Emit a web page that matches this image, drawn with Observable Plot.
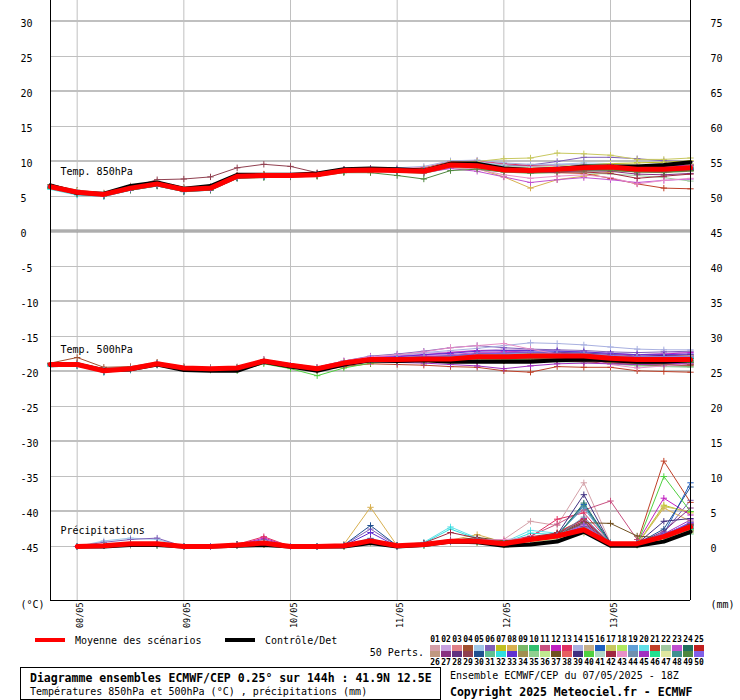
<!DOCTYPE html>
<html><head><meta charset="utf-8">
<script src="https://cdn.jsdelivr.net/npm/d3@7"></script>
<script src="https://cdn.jsdelivr.net/npm/@observablehq/plot@0.6"></script>
<style>body{margin:0;background:#fff;} #chart svg{display:block}</style>
</head><body><div id="chart"></div>
<script>
// ---------------- data ----------------
const leadHours = [0,6,12,18,24,30,36,42,48,54,60,66,72,78,84,90,96,102,108,114,120,126,132,138,144];
const precipHours = [6,12,18,24,30,36,42,48,54,60,66,72,78,84,90,96,102,108,114,120,126,132,138,144];
const dayTicks = ["2025-05-08","2025-05-09","2025-05-10","2025-05-11","2025-05-12","2025-05-13"];
const dayLabels = ["08/05","09/05","10/05","11/05","12/05","13/05"];
const leftTicks = [30,25,20,15,10,5,0,-5,-10,-15,-20,-25,-30,-35,-40,-45];
const rightTicks = [75,70,65,60,55,50,45,40,35,30,25,20,15,10,5,0];
const thinGrid = [25,15,5,-5,-15,-25,-35,-45];
const thickGrid = [30,20,10,-10,-20,-30,-40];
const panelLabels = [{label:"Temp. 850hPa", y:8.6},{label:"Temp. 500hPa", y:-16.9},{label:"Précipitations", y:-42.7}];
const precipOffset = -45; // 0 mm on the right axis sits on -45 °C of the left axis

const pertIds = ["01","02","03","04","05","06","07","08","09","10","11","12","13","14","15","16","17","18","19","20","21","22","23","24","25",
"26","27","28","29","30","31","32","33","34","35","36","37","38","39","40","41","42","43","44","45","46","47","48","49","50"];
const pertColors = ["#d4a0a8","#c8a0e0","#e08088","#a05030","#a0c8e8","#8060b8","#c0c020","#d8b050","#78b868","#30c070",
"#c85080","#c020c0","#e03060","#a8b0e0","#c8b088","#2060c0","#c8c860","#b0e860","#60a0d8","#60e0e8",
"#c04028","#a0c8a0","#c050d0","#207060","#c02020","#c09880","#883080","#603080","#904050","#205090",
"#60c090","#30e0e0","#6030d0","#a09050","#90d090","#c0e890","#705020","#e86060","#403080","#50d040",
"#b0d8c8","#a02840","#e890c8","#7090b0","#a030c0","#20e090","#e0e8a0","#409090","#508840","#8060e8"];

const t850Mean = [6.4,5.6,5.3,6.2,6.8,6.0,6.2,7.9,8.0,8.0,8.1,8.7,8.8,8.7,8.6,9.5,9.4,8.8,8.7,8.9,9.1,9.2,8.9,8.9,9.1];
const t850Ctrl = [6.6,5.5,5.4,6.5,7.0,6.1,6.5,8.1,8.1,8.1,8.3,8.9,9.0,8.9,8.7,9.7,9.7,9.0,8.8,8.9,9.3,9.3,9.3,9.5,9.9];
const t850Perts = [
[6.6,5.8,5.4,6.4,7.0,6.1,6.3,8.1,8.2,8.1,8.3,8.9,9.0,9.0,8.8,9.7,9.8,9.4,9.2,9.5,9.6,9.4,9.2,9.3,9.4],
[6.2,5.5,5.4,6.3,6.9,6.2,6.4,7.8,7.9,8.0,8.0,8.6,8.8,8.9,8.9,9.8,10.0,9.6,9.3,9.4,9.5,9.6,9.4,9.2,9.3],
[6.5,5.7,5.2,6.1,6.7,5.9,6.1,7.7,7.9,7.9,8.1,8.8,8.9,8.6,8.4,9.3,9.1,8.5,8.6,8.7,8.8,8.8,8.6,8.7,8.9],
[6.7,5.9,5.5,6.5,7.1,6.3,6.4,8.0,8.2,8.2,8.3,8.8,8.9,8.8,8.7,9.6,9.5,9.0,8.9,9.1,9.4,9.5,9.3,9.4,9.6],
[6.3,5.4,5.1,6.0,6.6,5.8,6.0,7.8,8.0,8.1,8.2,8.8,9.0,8.9,8.8,9.7,9.9,9.5,9.4,9.6,9.8,9.7,9.5,9.4,9.5],
[6.4,5.6,5.3,6.2,6.7,5.9,6.1,7.8,7.9,8.0,8.2,8.8,8.9,8.8,8.8,9.6,9.7,9.4,9.5,10.0,10.6,10.6,10.4,10.1,10.0],
[6.5,5.7,5.3,6.3,6.9,6.0,6.2,7.9,8.1,8.1,8.2,8.7,8.8,8.6,8.5,9.4,9.3,8.9,9.0,9.3,9.5,9.7,9.8,9.9,10.1],
[6.4,5.7,5.4,6.3,6.9,6.1,6.3,7.9,8.0,8.1,8.2,8.8,8.9,8.7,8.5,9.2,9.0,7.8,6.2,7.4,7.9,8.5,8.8,9.0,9.2],
[6.3,5.5,5.2,6.1,6.7,5.9,6.0,7.7,7.8,7.9,8.0,8.6,8.7,8.5,8.3,9.1,9.0,8.5,8.3,8.4,8.6,8.7,8.5,8.4,8.6],
[6.6,5.8,5.4,6.3,6.8,6.0,6.2,8.0,8.1,8.0,8.1,8.7,8.9,8.8,8.7,9.6,9.6,9.1,9.0,9.2,9.4,9.3,9.1,9.1,9.3],
[6.2,5.4,5.2,6.1,6.6,5.8,6.1,7.7,7.8,7.8,7.9,8.5,8.7,8.6,8.5,9.5,9.6,9.2,9.0,9.1,9.2,9.0,8.6,8.5,8.7],
[6.5,5.6,5.3,6.2,6.8,6.0,6.3,8.0,8.0,8.0,8.1,8.7,8.8,8.7,8.7,9.6,9.6,9.0,8.8,8.9,9.0,8.9,8.7,8.8,9.0],
[6.4,5.5,5.2,6.2,6.9,6.1,6.3,7.9,8.1,8.2,8.3,8.9,9.0,9.0,9.1,10.0,10.1,9.7,9.4,9.3,9.4,9.5,9.3,9.2,9.4],
[6.3,5.6,5.4,6.4,7.0,6.2,6.3,7.9,8.0,8.1,8.2,8.7,8.9,9.1,9.3,10.1,10.2,9.8,9.6,9.6,9.6,9.4,9.2,9.0,9.0],
[6.6,5.7,5.3,6.1,6.7,5.9,6.2,7.8,7.9,7.9,8.0,8.6,8.7,8.6,8.5,9.3,9.2,8.6,8.5,8.7,8.9,9.0,8.8,8.9,9.2],
[6.2,5.3,5.0,5.9,6.5,5.7,5.9,7.6,7.8,7.9,8.0,8.6,8.7,8.6,8.6,9.4,9.4,8.9,8.7,8.8,8.9,9.0,8.9,8.8,9.0],
[6.5,5.7,5.4,6.3,6.8,6.0,6.2,7.9,8.0,8.1,8.2,8.8,8.9,8.9,9.0,9.9,10.0,10.4,10.5,11.2,11.1,10.9,10.3,10.3,10.5],
[6.4,5.6,5.3,6.2,6.8,6.0,6.2,7.8,7.9,8.0,8.1,8.7,8.8,8.6,8.6,9.4,9.3,8.7,8.6,8.9,9.2,9.4,9.3,9.4,9.6],
[6.3,5.5,5.3,6.2,6.8,6.0,6.1,7.8,7.9,8.0,8.1,8.7,8.8,8.7,8.7,9.7,9.8,9.3,9.1,9.1,9.1,9.0,8.8,8.7,8.8],
[6.0,5.2,5.0,6.0,6.6,5.8,6.0,7.7,7.8,7.9,8.0,8.6,8.7,8.5,8.4,9.3,9.2,8.7,8.6,8.8,9.0,9.1,9.0,9.0,9.2],
[6.5,5.7,5.3,6.2,6.8,6.0,6.2,7.9,8.0,8.0,8.1,8.6,8.7,8.6,8.5,9.4,9.3,8.7,8.5,8.4,8.3,7.6,6.8,6.2,6.1],
[6.4,5.6,5.3,6.2,6.8,6.0,6.2,7.9,8.0,8.0,8.1,8.6,8.7,8.6,8.6,9.4,9.3,8.8,8.6,8.6,8.4,8.2,8.0,7.7,7.2],
[6.3,5.5,5.2,6.2,6.8,6.0,6.1,7.8,7.9,7.9,8.0,8.6,8.6,8.5,8.4,9.0,8.6,7.8,7.0,7.4,7.7,7.4,7.0,7.3,7.5],
[6.5,5.6,5.3,6.2,6.8,6.0,6.2,7.9,8.0,8.1,8.2,8.8,8.9,8.8,8.7,9.5,9.5,9.1,9.0,9.3,9.5,9.5,9.3,9.2,9.3],
[6.4,5.6,5.3,6.3,6.9,6.1,6.3,8.0,8.1,8.1,8.2,8.8,8.9,8.7,8.6,9.5,9.4,8.8,8.8,9.0,9.2,9.3,9.1,9.0,9.1],
[6.5,5.8,5.4,6.2,6.7,5.9,6.1,7.8,7.9,7.9,8.0,8.7,8.8,8.7,8.6,9.4,9.3,8.9,8.9,9.1,9.3,9.2,9.0,9.0,9.2],
[6.3,5.5,5.2,6.1,6.7,5.9,6.1,7.8,8.0,8.0,8.1,8.7,8.8,8.7,8.6,9.4,9.2,8.6,8.4,8.5,8.7,8.6,8.2,8.1,8.3],
[6.4,5.6,5.3,6.2,6.8,5.9,6.0,7.7,7.9,8.0,8.1,8.7,8.9,8.9,8.8,9.6,9.6,9.1,8.9,9.0,9.2,9.2,9.0,9.0,9.2],
[6.6,5.7,5.3,6.3,7.4,7.5,7.8,9.1,9.6,9.3,8.4,8.9,9.0,8.8,8.6,9.4,9.3,8.8,8.6,8.7,8.9,9.0,8.8,8.8,9.0],
[6.3,5.4,5.1,6.0,6.6,5.8,6.0,7.7,7.9,8.0,8.1,8.7,8.8,8.8,8.8,9.7,9.7,9.2,9.1,9.2,9.3,9.3,9.1,9.0,9.2],
[6.5,5.7,5.4,6.3,6.9,6.1,6.3,7.9,8.0,8.0,8.0,8.6,8.7,8.7,8.6,9.4,9.3,8.8,8.7,8.9,9.0,9.0,8.7,8.7,8.9],
[6.1,5.3,5.1,6.1,6.7,5.9,6.1,7.8,7.9,8.0,8.1,8.7,8.8,8.7,8.6,9.5,9.5,9.0,8.9,9.1,9.3,9.4,9.2,9.1,9.3],
[6.4,5.5,5.2,6.1,6.7,5.8,6.0,7.7,7.9,8.0,8.1,8.7,8.9,8.8,8.8,9.6,9.5,9.0,8.8,8.9,9.0,9.1,8.9,8.8,8.9],
[6.6,5.8,5.4,6.3,6.8,6.0,6.2,7.9,8.0,8.0,8.1,8.6,8.7,8.5,8.4,9.2,9.1,8.6,8.5,8.7,8.8,8.9,8.7,8.6,8.7],
[6.5,5.6,5.2,6.1,6.7,5.9,6.2,7.9,8.0,8.0,8.1,8.8,8.9,8.8,8.7,9.5,9.4,8.9,8.8,9.0,9.2,9.3,9.2,9.2,9.4],
[6.4,5.7,5.4,6.3,6.9,6.1,6.3,8.0,8.1,8.0,8.0,8.6,8.7,8.6,8.6,9.5,9.6,9.2,9.1,9.3,9.4,9.4,9.2,9.2,9.3],
[6.3,5.5,5.2,6.2,6.8,6.0,6.2,7.9,8.0,8.0,8.0,8.6,8.7,8.6,8.5,9.4,9.3,8.7,8.6,8.8,8.9,8.8,8.5,8.5,8.7],
[6.5,5.7,5.3,6.2,6.8,6.0,6.2,7.9,8.1,8.1,8.2,8.8,8.9,8.8,8.7,9.5,9.5,9.0,8.9,9.1,9.3,9.4,9.3,9.3,9.5],
[6.4,5.6,5.2,6.1,6.6,5.8,6.1,7.8,8.0,8.0,8.1,8.7,8.8,8.7,8.6,9.5,9.4,8.9,8.7,8.9,9.0,9.0,8.7,8.6,8.8],
[6.2,5.4,5.1,6.0,6.6,5.8,6.0,7.7,7.8,7.9,8.0,8.6,8.7,8.6,8.5,9.3,9.2,8.7,8.6,8.8,9.0,9.1,8.9,8.9,9.1],
[6.5,5.7,5.4,6.3,6.8,6.0,6.2,7.9,8.0,8.1,8.2,8.8,8.9,8.8,8.8,9.7,9.8,9.4,9.2,9.3,9.4,9.4,9.2,9.1,9.2],
[6.4,5.6,5.3,6.2,6.8,6.0,6.2,7.9,8.0,8.0,8.1,8.7,8.8,8.7,8.6,9.4,9.2,8.6,8.4,8.5,8.5,8.3,7.6,7.9,8.2],
[6.4,5.6,5.3,6.2,6.8,6.0,6.2,7.8,7.9,8.0,8.1,8.7,8.8,8.6,8.5,9.2,8.9,8.1,7.6,7.9,8.1,7.7,6.8,7.3,7.6],
[6.3,5.5,5.3,6.2,6.8,6.0,6.2,7.8,7.9,8.0,8.1,8.8,8.9,8.8,8.7,9.6,9.6,9.0,8.9,9.0,9.1,9.1,8.9,8.9,9.0],
[6.5,5.6,5.3,6.2,6.7,5.9,6.1,7.8,7.9,8.0,8.1,8.7,8.8,8.7,8.6,9.4,9.4,8.9,8.8,9.0,9.2,9.3,9.2,9.3,9.5],
[6.4,5.6,5.2,6.1,6.7,5.9,6.1,7.8,7.9,8.0,8.1,8.7,8.8,8.7,8.7,9.5,9.5,9.0,8.9,9.1,9.3,9.2,9.0,9.0,9.1],
[6.6,5.8,5.4,6.3,6.9,6.0,6.2,7.9,8.0,8.0,8.1,8.7,8.8,8.8,8.7,9.6,9.6,9.2,9.1,9.3,9.5,9.6,9.5,9.5,9.7],
[6.3,5.5,5.2,6.1,6.7,5.9,6.1,7.8,7.9,8.0,8.1,8.7,8.8,8.7,8.7,9.5,9.5,9.0,8.8,8.9,9.1,9.1,9.0,8.9,9.0],
[6.2,5.4,5.1,5.9,6.5,5.7,5.9,7.6,7.7,7.8,7.9,8.4,8.4,8.0,7.5,8.7,8.9,8.5,8.4,8.6,8.8,8.8,8.6,8.5,8.7],
[6.5,5.6,5.2,6.1,6.7,5.9,6.1,7.8,7.9,8.0,8.2,8.8,8.9,8.8,8.7,9.5,9.5,9.1,9.0,9.2,9.4,9.4,9.2,9.1,9.2]];

const t500Mean = [-19.0,-19.0,-19.9,-19.6,-18.9,-19.5,-19.6,-19.5,-18.5,-19.1,-19.6,-18.8,-18.3,-18.3,-18.2,-18.2,-17.9,-17.9,-17.8,-17.8,-17.8,-18.1,-18.3,-18.3,-18.3];
const t500Ctrl = [-19.1,-19.0,-19.8,-19.7,-19.0,-19.8,-19.9,-19.9,-18.6,-19.3,-19.9,-19.0,-18.4,-18.5,-18.4,-18.6,-18.6,-18.6,-18.6,-18.4,-18.3,-18.4,-18.6,-18.6,-18.4];
const t500Perts = [
[-18.8,-18.9,-19.8,-19.5,-18.8,-19.4,-19.5,-19.3,-18.3,-18.9,-19.4,-18.6,-18.1,-18.0,-17.9,-17.8,-17.5,-17.4,-17.3,-17.5,-17.6,-17.9,-18.0,-17.9,-17.8],
[-19.1,-19.0,-19.8,-19.6,-18.8,-19.4,-19.6,-19.4,-18.4,-19.0,-19.5,-18.7,-18.0,-17.7,-17.4,-17.2,-17.0,-16.8,-16.9,-17.0,-17.2,-17.4,-17.6,-17.4,-17.2],
[-19.0,-19.1,-20.0,-19.7,-19.0,-19.6,-19.7,-19.6,-18.6,-19.2,-19.8,-19.1,-18.6,-18.6,-18.5,-18.6,-18.4,-18.3,-18.1,-18.0,-18.1,-18.4,-18.7,-18.8,-18.9],
[-18.8,-18.0,-19.4,-19.3,-18.7,-19.3,-19.5,-19.4,-18.3,-19.0,-19.6,-18.9,-18.4,-18.4,-18.3,-18.3,-18.0,-18.0,-17.9,-17.8,-17.7,-17.9,-18.1,-18.2,-18.2],
[-19.2,-19.2,-20.1,-19.7,-18.9,-19.5,-19.6,-19.5,-18.5,-19.0,-19.5,-18.6,-18.0,-18.0,-17.9,-17.9,-17.6,-17.6,-17.5,-17.6,-17.7,-18.0,-18.2,-18.1,-18.0],
[-19.0,-19.0,-19.9,-19.6,-19.0,-19.6,-19.7,-19.5,-18.4,-19.0,-19.4,-18.5,-17.8,-17.5,-17.1,-16.6,-16.3,-16.6,-16.8,-16.9,-17.0,-17.2,-17.3,-17.2,-17.1],
[-18.9,-18.9,-19.8,-19.5,-18.8,-19.4,-19.5,-19.4,-18.4,-19.1,-19.7,-19.0,-18.5,-18.5,-18.4,-18.5,-18.3,-18.2,-18.0,-17.9,-17.9,-18.1,-18.3,-18.4,-18.5],
[-19.0,-19.1,-20.0,-19.7,-18.9,-19.5,-19.6,-19.5,-18.5,-19.2,-19.8,-19.0,-18.5,-18.6,-18.6,-18.7,-18.6,-18.5,-18.4,-18.4,-18.5,-18.7,-18.9,-19.0,-19.1],
[-19.1,-19.0,-19.9,-19.6,-18.9,-19.5,-19.6,-19.5,-18.5,-19.1,-19.6,-18.8,-18.3,-18.3,-18.3,-18.4,-18.3,-18.4,-18.3,-18.4,-18.5,-18.8,-19.1,-19.2,-19.3],
[-18.9,-19.0,-19.9,-19.5,-18.8,-19.4,-19.5,-19.4,-18.4,-19.0,-19.5,-18.7,-18.2,-18.1,-18.0,-17.9,-17.7,-17.6,-17.5,-17.6,-17.7,-17.9,-18.1,-18.0,-17.9],
[-19.0,-19.0,-19.9,-19.6,-18.9,-19.5,-19.6,-19.5,-18.5,-19.1,-19.6,-18.8,-18.2,-18.2,-18.1,-18.1,-17.8,-17.7,-17.6,-17.5,-17.5,-17.8,-18.0,-18.1,-18.1],
[-19.1,-19.1,-20.0,-19.7,-19.0,-19.6,-19.7,-19.6,-18.6,-19.1,-19.5,-18.6,-18.0,-17.8,-17.6,-17.3,-17.0,-17.1,-17.2,-17.3,-17.4,-17.5,-17.6,-17.5,-17.3],
[-18.9,-18.9,-19.8,-19.5,-18.8,-19.4,-19.5,-19.4,-18.4,-19.0,-19.5,-18.7,-18.2,-18.2,-18.1,-18.0,-17.8,-17.8,-17.7,-17.7,-17.6,-17.9,-18.1,-18.2,-18.1],
[-19.0,-19.0,-19.9,-19.6,-18.9,-19.5,-19.6,-19.5,-18.5,-19.1,-19.6,-18.7,-18.1,-17.7,-17.3,-17.0,-16.7,-16.3,-15.9,-16.0,-16.2,-16.5,-16.8,-16.9,-16.9],
[-19.0,-18.9,-19.7,-19.5,-18.9,-19.5,-19.6,-19.5,-18.5,-19.1,-19.7,-18.9,-18.4,-18.4,-18.3,-18.3,-18.1,-18.0,-17.9,-17.9,-18.0,-18.2,-18.4,-18.5,-18.5],
[-19.2,-19.1,-20.1,-19.8,-19.1,-19.6,-19.7,-19.6,-18.6,-19.2,-19.7,-18.9,-18.3,-18.2,-18.0,-18.0,-17.8,-17.7,-17.6,-17.7,-17.8,-18.0,-18.2,-18.2,-18.1],
[-18.9,-18.9,-19.8,-19.5,-18.8,-19.4,-19.5,-19.4,-18.4,-19.0,-19.5,-18.8,-18.3,-18.3,-18.2,-18.2,-18.0,-18.0,-17.9,-18.0,-18.1,-18.3,-18.5,-18.6,-18.6],
[-19.0,-19.0,-19.9,-19.6,-18.9,-19.5,-19.6,-19.5,-18.6,-19.2,-19.7,-18.9,-18.4,-18.4,-18.3,-18.3,-18.1,-18.1,-18.0,-18.0,-18.0,-18.3,-18.5,-18.4,-18.4],
[-19.1,-19.1,-20.0,-19.6,-18.9,-19.5,-19.6,-19.5,-18.5,-19.1,-19.6,-18.8,-18.2,-18.1,-17.9,-17.7,-17.4,-17.3,-17.2,-17.2,-17.3,-17.6,-17.9,-17.9,-17.8],
[-19.3,-19.2,-20.1,-19.7,-18.9,-19.5,-19.6,-19.5,-18.5,-19.0,-19.5,-18.7,-18.1,-18.0,-17.9,-17.9,-17.7,-17.6,-17.5,-17.6,-17.7,-17.9,-18.1,-18.0,-17.9],
[-19.0,-19.0,-19.9,-19.6,-18.9,-19.5,-19.7,-19.6,-18.7,-19.4,-19.9,-19.3,-18.9,-19.0,-19.1,-19.3,-19.4,-19.9,-20.1,-19.3,-19.4,-19.4,-19.9,-20.0,-20.1],
[-19.0,-19.0,-19.9,-19.6,-18.9,-19.5,-19.6,-19.5,-18.5,-19.1,-19.6,-18.8,-18.3,-18.4,-18.4,-18.5,-18.4,-18.5,-18.5,-18.6,-18.7,-18.9,-19.2,-19.3,-19.4],
[-19.0,-19.1,-20.0,-19.7,-19.0,-19.6,-19.6,-19.4,-18.3,-18.9,-19.4,-18.5,-17.9,-17.8,-17.7,-17.6,-17.3,-17.3,-17.4,-17.5,-17.6,-17.8,-18.0,-17.9,-17.8],
[-18.9,-19.0,-19.9,-19.6,-18.9,-19.5,-19.6,-19.5,-18.5,-19.1,-19.6,-18.8,-18.3,-18.3,-18.2,-18.2,-17.9,-17.8,-17.7,-17.6,-17.6,-17.9,-18.1,-18.2,-18.2],
[-19.0,-19.0,-19.9,-19.6,-18.8,-19.4,-19.5,-19.4,-18.4,-19.0,-19.5,-18.7,-18.1,-18.0,-18.0,-18.0,-17.8,-17.7,-17.7,-17.8,-17.9,-18.1,-18.2,-18.0,-17.8],
[-19.1,-19.0,-19.8,-19.6,-18.9,-19.5,-19.6,-19.5,-18.5,-19.1,-19.7,-18.9,-18.4,-18.4,-18.4,-18.4,-18.2,-18.2,-18.1,-18.1,-18.2,-18.4,-18.6,-18.7,-18.7],
[-19.0,-19.1,-20.0,-19.7,-19.0,-19.5,-19.6,-19.5,-18.5,-19.1,-19.6,-18.8,-18.3,-18.2,-18.0,-17.9,-17.6,-17.5,-17.4,-17.4,-17.5,-17.7,-17.9,-17.8,-17.7],
[-19.0,-19.0,-19.9,-19.6,-18.9,-19.5,-19.6,-19.5,-18.5,-19.1,-19.6,-18.8,-18.2,-18.1,-17.9,-17.8,-17.5,-17.4,-17.3,-17.3,-17.4,-17.6,-17.8,-17.7,-17.6],
[-18.9,-18.8,-19.7,-19.5,-18.8,-19.4,-19.5,-19.4,-18.4,-19.0,-19.6,-18.9,-18.4,-18.4,-18.3,-18.3,-18.1,-18.1,-18.1,-18.2,-18.3,-18.5,-18.6,-18.6,-18.6],
[-19.1,-19.1,-20.0,-19.7,-19.0,-19.6,-19.7,-19.6,-18.6,-19.2,-19.7,-18.9,-18.4,-18.3,-18.2,-18.1,-17.9,-17.8,-17.7,-17.7,-17.7,-18.0,-18.2,-18.2,-18.2],
[-19.0,-19.0,-19.9,-19.6,-18.9,-19.5,-19.6,-19.5,-18.5,-19.1,-19.6,-18.7,-18.2,-18.1,-18.1,-18.1,-17.9,-17.8,-17.7,-17.8,-17.8,-18.0,-18.2,-18.3,-18.3],
[-19.2,-19.1,-20.0,-19.6,-18.9,-19.5,-19.6,-19.5,-18.5,-19.1,-19.6,-18.8,-18.2,-18.2,-18.1,-18.0,-17.7,-17.6,-17.5,-17.5,-17.6,-17.9,-18.1,-18.1,-18.0],
[-19.0,-19.0,-19.9,-19.6,-18.9,-19.5,-19.6,-19.5,-18.5,-19.1,-19.6,-18.8,-18.1,-17.9,-17.6,-17.4,-17.1,-17.0,-17.0,-17.1,-17.2,-17.4,-17.6,-17.6,-17.5],
[-18.9,-18.9,-19.8,-19.5,-18.8,-19.4,-19.5,-19.4,-18.4,-19.1,-19.7,-19.0,-18.5,-18.5,-18.5,-18.6,-18.5,-18.5,-18.4,-18.3,-18.3,-18.5,-18.7,-18.8,-18.8],
[-19.0,-19.0,-19.9,-19.6,-18.9,-19.5,-19.6,-19.5,-18.5,-19.1,-19.6,-18.8,-18.3,-18.3,-18.2,-18.2,-18.0,-18.0,-17.9,-17.9,-17.9,-18.2,-18.4,-18.5,-18.5],
[-19.1,-19.0,-19.9,-19.6,-18.9,-19.5,-19.6,-19.5,-18.5,-19.1,-19.6,-18.8,-18.3,-18.2,-18.1,-18.1,-17.8,-17.7,-17.6,-17.6,-17.6,-17.8,-18.0,-17.9,-17.8],
[-19.0,-19.1,-20.0,-19.7,-19.0,-19.6,-19.7,-19.6,-18.6,-19.2,-19.7,-18.9,-18.4,-18.5,-18.5,-18.6,-18.5,-18.4,-18.3,-18.3,-18.4,-18.6,-18.8,-18.9,-19.0],
[-18.9,-18.9,-19.8,-19.5,-18.8,-19.4,-19.5,-19.4,-18.4,-19.0,-19.5,-18.7,-18.2,-18.1,-18.0,-17.9,-17.7,-17.6,-17.5,-17.5,-17.5,-17.7,-17.9,-17.9,-17.8],
[-19.0,-19.0,-19.9,-19.6,-18.9,-19.5,-19.6,-19.5,-18.5,-19.1,-19.6,-18.8,-18.3,-18.2,-18.1,-18.0,-17.8,-17.8,-17.8,-17.9,-18.0,-18.2,-18.4,-18.4,-18.3],
[-19.0,-19.0,-19.9,-19.6,-18.9,-19.6,-19.8,-19.9,-18.9,-19.6,-20.6,-19.5,-18.8,-18.6,-18.5,-18.4,-18.2,-18.1,-18.0,-18.1,-18.2,-18.4,-18.6,-18.7,-18.7],
[-19.1,-19.0,-19.9,-19.6,-18.9,-19.5,-19.6,-19.5,-18.5,-19.1,-19.6,-18.8,-18.2,-18.1,-18.0,-17.9,-17.6,-17.5,-17.4,-17.4,-17.5,-17.7,-17.9,-17.9,-17.8],
[-19.0,-19.0,-19.9,-19.6,-18.9,-19.5,-19.6,-19.5,-18.6,-19.3,-19.8,-19.1,-18.6,-18.6,-18.5,-18.5,-18.4,-18.4,-18.4,-18.5,-18.6,-18.8,-19.0,-19.1,-19.1],
[-19.0,-19.0,-19.9,-19.6,-18.9,-19.5,-19.6,-19.4,-18.3,-18.9,-19.4,-18.5,-17.9,-17.6,-17.2,-16.6,-16.3,-16.0,-16.8,-17.5,-18.2,-19.0,-19.5,-19.2,-18.9],
[-19.0,-19.0,-19.9,-19.6,-18.9,-19.5,-19.6,-19.5,-18.5,-19.1,-19.6,-18.8,-18.3,-18.3,-18.2,-18.2,-18.0,-17.9,-17.9,-18.0,-18.1,-18.3,-18.4,-18.4,-18.3],
[-19.0,-19.0,-19.9,-19.6,-18.9,-19.5,-19.7,-19.6,-18.6,-19.2,-19.7,-19.0,-18.6,-18.7,-18.8,-19.0,-19.2,-19.6,-19.2,-18.9,-18.8,-18.9,-19.0,-18.9,-18.8],
[-19.1,-19.1,-20.0,-19.7,-19.0,-19.5,-19.6,-19.5,-18.5,-19.1,-19.6,-18.8,-18.2,-18.1,-18.0,-17.9,-17.7,-17.6,-17.5,-17.6,-17.7,-17.9,-18.1,-18.1,-18.1],
[-19.0,-19.0,-19.9,-19.6,-18.9,-19.4,-19.5,-19.4,-18.4,-19.0,-19.5,-18.7,-18.2,-18.2,-18.1,-18.1,-17.9,-17.9,-17.8,-17.8,-17.9,-18.1,-18.3,-18.3,-18.3],
[-19.0,-19.0,-19.9,-19.6,-18.9,-19.5,-19.6,-19.5,-18.5,-19.1,-19.6,-18.8,-18.3,-18.3,-18.3,-18.3,-18.1,-18.0,-18.0,-18.0,-18.0,-18.2,-18.4,-18.4,-18.4],
[-18.9,-19.0,-19.9,-19.6,-18.9,-19.5,-19.6,-19.5,-18.5,-19.1,-19.6,-18.8,-18.4,-18.5,-18.5,-18.5,-18.4,-18.3,-18.2,-18.2,-18.3,-18.5,-18.7,-18.7,-18.7],
[-19.0,-19.0,-19.9,-19.6,-18.9,-19.5,-19.6,-19.5,-18.5,-19.1,-19.6,-18.8,-18.1,-18.0,-17.9,-17.8,-17.5,-17.4,-17.3,-17.4,-17.5,-17.7,-17.9,-17.9,-17.9]];

const precipMean = [0.0,0.1,0.4,0.4,0.0,0.0,0.2,0.5,0.0,0.0,0.1,0.8,0.1,0.3,0.75,0.75,0.4,1.0,1.5,2.4,0.4,0.4,1.4,2.8];
const precipCtrl = [0.0,0.0,0.2,0.2,0.0,0.0,0.1,0.2,0.0,0.0,0.0,0.5,0.0,0.2,0.7,0.6,0.1,0.3,0.7,2.1,0.1,0.1,0.7,2.1];
const precipPerts = [
[0,0.1,0.4,0.3,0,0,0.2,0.5,0,0,0.1,0.9,0.1,0.4,0.8,0.9,1.0,3.6,3.0,9.1,0.5,0.3,1.2,2.5],
[0,0.1,0.3,0.4,0,0,0.3,0.6,0,0,0.1,1.0,0,0.3,0.6,0.8,0.4,0.9,1.6,3.2,0.4,0.4,1.5,3.0],
[0,0.2,0.5,0.3,0,0,0.2,0.4,0,0,0.1,0.7,0,0.2,0.7,0.6,0.3,0.8,1.8,3.8,0.5,0.3,1.1,2.4],
[0,0.1,0.3,0.2,0,0,0.1,0.3,0,0,0,0.6,0,0.4,0.9,1.0,0.5,1.2,1.4,2.6,0.3,0.5,1.8,3.2],
[0,0.8,1.2,1.0,0,0,0.2,0.5,0,0,0.2,1.2,0.1,0.3,0.8,0.7,0.4,1.0,1.3,2.0,0.4,0.4,1.4,2.2],
[0,0.6,1.0,1.2,0,0,0.3,1.0,0,0,0.2,2.5,0.1,0.3,0.6,0.7,0.3,0.9,1.5,2.8,0.3,0.4,2.0,6.6],
[0,0.1,0.3,0.3,0,0,0.2,0.4,0,0,0.1,0.8,0,0.2,0.5,0.6,0.3,0.7,1.2,2.2,0.2,0.3,5.9,4.8],
[0,0.1,0.2,0.2,0,0,0.1,0.3,0,0,0.3,5.6,0.1,0.4,0.9,1.7,0.6,1.1,1.6,2.9,0.4,0.3,5.5,3.6],
[0,0.1,0.3,0.3,0,0,0.2,0.4,0,0,0.1,0.6,0,0.3,0.7,0.8,0.4,0.9,1.4,2.4,0.3,0.4,1.3,2.6],
[0,0.1,0.3,0.2,0,0,0.2,0.3,0,0,0,0.5,0,0.2,0.6,0.7,0.3,0.8,1.2,3.4,0.3,0.2,0.9,1.8],
[0,0.2,0.4,0.3,0,0,0.3,0.6,0,0,0.1,0.9,0.1,0.5,1.0,1.1,0.7,1.5,3.2,5.2,6.5,1.0,1.2,2.3],
[0,0.1,0.3,0.4,0,0,0.2,1.2,0,0,0.1,0.7,0,0.3,0.7,0.9,0.5,1.0,1.7,4.0,0.4,0.5,6.9,4.5],
[0,0.1,0.4,0.3,0,0,0.3,1.4,0,0,0.2,1.0,0.1,0.4,0.9,1.0,0.6,1.4,3.9,4.8,0.5,0.4,1.5,3.0],
[0,0.1,0.3,0.3,0,0,0.2,0.4,0,0,0.1,0.8,0,0.2,0.6,0.7,0.3,0.8,1.3,2.7,0.3,0.3,1.6,2.9],
[0,0.1,0.2,0.2,0,0,0.1,0.3,0,0,0,0.6,0,0.3,0.5,0.6,0.2,0.6,1.1,1.9,0.2,0.3,1.0,2.0],
[0,0.2,0.4,0.4,0,0,0.2,0.5,0,0,0.1,0.9,0.1,0.3,0.8,0.8,0.4,1.0,1.6,6.0,0.4,0.4,1.8,9.1],
[0,0.1,0.3,0.3,0,0,0.2,0.4,0,0,0.1,0.7,0,0.2,0.7,0.7,0.3,0.9,1.4,2.5,0.3,0.3,5.7,5.0],
[0,0.1,0.3,0.2,0,0,0.1,0.3,0,0,0,0.5,0,0.2,0.6,0.6,0.3,0.7,1.1,2.1,0.2,0.2,1.1,2.3],
[0,0.1,0.4,0.3,0,0,0.2,0.5,0,0,0.1,0.8,0.1,0.3,0.8,0.8,0.5,1.1,1.7,5.5,0.4,0.4,1.3,2.7],
[0,0.2,0.5,0.4,0,0,0.3,0.6,0,0,0.2,1.1,0.1,0.6,2.8,1.2,0.6,2.3,1.9,3.6,0.6,0.4,1.4,2.8],
[0,0.1,0.3,0.3,0,0,0.2,0.4,0,0,0.1,0.7,0,0.3,0.7,0.7,0.4,0.9,1.5,3.0,0.4,0.5,12.2,6.3],
[0,0.1,0.3,0.2,0,0,0.1,0.3,0,0,0,0.6,0,0.2,0.5,0.6,0.3,0.8,1.2,2.3,0.3,0.3,1.2,2.1],
[0,0.1,0.4,0.3,0,0,0.2,0.5,0,0,0.1,0.9,0,0.3,0.7,0.8,0.4,1.0,1.6,3.5,0.4,0.4,1.7,3.3],
[0,0.1,0.3,0.3,0,0,0.2,0.4,0,0,0.1,0.8,0.1,0.3,0.7,0.8,0.4,1.0,1.5,6.2,0.5,0.4,1.5,3.1],
[0,0.1,0.3,0.3,0,0,0.2,0.4,0,0,0.1,0.7,0,0.3,0.8,0.8,0.4,1.1,2.0,3.9,0.4,0.3,1.4,2.9],
[0,0.1,0.3,0.2,0,0,0.1,0.3,0,0,0.1,0.6,0,0.2,0.6,0.7,0.3,0.8,1.3,2.4,0.3,0.3,1.1,2.4],
[0,0.2,0.4,0.3,0,0,0.2,0.5,0,0,0.1,0.9,0.1,0.3,0.8,0.8,0.4,1.0,1.6,2.9,0.4,0.4,2.2,5.5],
[0,0.1,0.3,0.3,0,0,0.2,0.4,0,0,0.1,1.1,0,0.3,0.7,0.7,0.3,0.9,1.4,2.6,0.3,0.3,1.3,2.6],
[0,0.1,0.3,0.3,0,0,0.3,0.6,0,0,0.1,0.8,0,0.4,0.8,0.9,0.5,1.2,1.8,3.1,0.5,0.5,1.4,2.7],
[0,0.1,0.4,0.4,0,0,0.2,0.5,0,0,0.2,3.0,0.1,0.3,0.7,0.8,0.4,1.0,1.5,3.3,0.4,0.4,2.5,8.5],
[0,0.1,0.3,0.2,0,0,0.2,0.4,0,0,0.1,0.7,0,0.2,0.6,0.7,0.3,0.8,1.3,2.5,0.3,0.3,1.2,2.5],
[0,0.2,0.4,0.3,0,0,0.2,0.5,0,0,0.1,0.9,0.1,0.5,2.5,1.1,0.5,1.9,1.7,3.0,0.5,0.4,1.4,2.6],
[0,0.1,0.3,0.3,0,0,0.2,0.5,0,0,0.1,2.0,0,0.3,0.7,0.8,0.4,0.9,1.5,2.8,0.3,0.4,1.6,3.4],
[0,0.1,0.2,0.2,0,0,0.1,0.3,0,0,0,0.6,0,0.2,0.5,0.6,0.3,0.7,1.2,2.2,0.2,0.3,1.0,2.2],
[0,0.1,0.3,0.3,0,0,0.2,0.4,0,0,0.1,0.8,0,0.3,0.7,0.7,0.4,0.9,1.4,2.7,0.3,0.3,1.3,2.8],
[0,0.1,0.3,0.3,0,0,0.2,0.4,0,0,0.1,0.7,0,0.2,0.6,0.7,0.3,0.8,1.3,2.4,0.3,0.3,1.2,2.5],
[0,0.1,0.4,0.3,0,0,0.2,0.5,0,0,0.1,0.9,0.1,0.4,0.8,1.3,0.8,1.2,1.8,3.4,3.3,1.5,1.2,2.7],
[0,0.1,0.3,0.3,0,0,0.2,0.4,0,0,0.1,0.8,0,0.3,0.7,0.8,0.4,1.0,1.5,3.2,0.4,0.4,1.5,3.0],
[0,0.1,0.3,0.3,0,0,0.2,0.5,0,0,0.1,0.9,0.1,0.3,0.8,0.8,0.4,1.0,1.7,7.4,0.4,0.4,3.6,4.0],
[0,0.1,0.3,0.2,0,0,0.2,0.4,0,0,0.1,0.7,0,0.2,0.6,0.7,0.3,0.8,1.4,2.6,0.3,0.3,10.0,5.0],
[0,0.1,0.3,0.3,0,0,0.2,0.4,0,0,0.1,0.8,0,0.3,0.7,0.7,0.4,0.9,1.4,2.5,0.3,0.3,1.3,2.7],
[0,0.2,0.4,0.4,0,0,0.3,0.7,0,0,0.2,1.0,0.1,0.5,2.0,1.2,0.6,1.4,1.9,3.6,0.5,0.5,1.6,3.2],
[0,0.1,0.3,0.3,0,0,0.2,0.5,0,0,0.1,0.8,0,0.3,0.8,0.9,1.0,1.2,1.6,3.0,0.4,0.4,1.4,2.8],
[0,0.1,0.3,0.3,0,0,0.2,0.4,0,0,0.1,0.7,0,0.3,0.7,0.8,0.4,1.0,1.5,4.2,0.4,0.4,1.5,2.9],
[0,0.1,0.3,0.3,0,0,0.2,0.4,0,0,0.1,0.8,0,0.3,0.7,0.7,0.4,0.9,1.5,2.8,0.3,0.4,1.8,3.8],
[0,0.1,0.3,0.2,0,0,0.2,0.4,0,0,0.1,0.7,0,0.2,0.6,0.7,0.3,0.8,1.3,2.6,0.3,0.3,1.2,2.4],
[0,0.1,0.2,0.2,0,0,0.1,0.3,0,0,0,0.6,0,0.2,0.5,0.6,0.3,0.7,1.1,2.0,0.2,0.2,1.0,1.9],
[0,0.1,0.3,0.3,0,0,0.2,0.5,0,0,0.1,0.8,0.1,0.3,0.7,0.8,0.4,1.0,1.6,5.8,0.4,0.4,1.5,3.0],
[0,0.1,0.3,0.3,0,0,0.2,0.4,0,0,0.1,0.7,0,0.3,0.7,0.7,0.4,0.9,1.4,2.5,0.3,0.3,1.3,2.6],
[0,0.1,0.3,0.3,0,0,0.2,0.4,0,0,0.1,0.8,0,0.3,0.7,0.8,0.4,1.0,1.5,3.1,0.4,0.4,1.6,3.5]];

// ---------------- build ----------------
const baseTime = Date.UTC(2025, 4, 7, 18);
const timeOf = h => new Date(baseTime + h * 3600e3);
const yTop = 33, yBottom = -52.714;

function rows(values, hours, run, color, offset = 0) {
  return values.map((v, i) => ({run, color, t: timeOf(hours[i]), v: v + offset}));
}
const pertRows = [];
t850Perts.forEach((s, p) => pertRows.push(...rows(s, leadHours, "a" + p, pertColors[p])));
t500Perts.forEach((s, p) => pertRows.push(...rows(s, leadHours, "b" + p, pertColors[p])));
precipPerts.forEach((s, p) => pertRows.push(...rows(s, precipHours, "c" + p, pertColors[p], precipOffset)));
const ctrlRows = [...rows(t850Ctrl, leadHours, "a"), ...rows(t500Ctrl, leadHours, "b"), ...rows(precipCtrl, precipHours, "c", null, precipOffset)];
const meanRows = [...rows(t850Mean, leadHours, "a"), ...rows(t500Mean, leadHours, "b"), ...rows(precipMean, precipHours, "c", null, precipOffset)];
const days = dayTicks.map(d => new Date(d + "T00:00:00Z"));

const chart = Plot.plot({
  width: 740, height: 632,
  marginLeft: 50, marginRight: 50, marginTop: 0, marginBottom: 32,
  x: {type: "utc", domain: [timeOf(0), timeOf(144)], axis: null},
  y: {domain: [yBottom, yTop], axis: null},
  color: {type: "identity"},
  style: {fontFamily: "DejaVu Sans Mono", fontSize: "10px", background: "white", color: "black", overflow: "visible"},
  marks: [
    Plot.ruleX(days, {stroke: "#c0c0c0"}),
    Plot.ruleY(thinGrid, {stroke: "#c0c0c0"}),
    Plot.ruleY(thickGrid, {stroke: "#c0c0c0", strokeWidth: 2, dy: -0.5}),
    Plot.ruleY([0], {stroke: "#8c8c8c", strokeWidth: 3, dy: -0.5}),
    Plot.ruleY([0], {stroke: "#d0d0d0", strokeWidth: 1, dy: -0.5}),
    Plot.line(pertRows, {x: "t", y: "v", z: "run", stroke: "color", strokeWidth: 1}),
    Plot.dot(pertRows, {x: "t", y: "v", stroke: "color", symbol: "plus", r: 2.2, strokeWidth: 1}),
    Plot.line(ctrlRows, {x: "t", y: "v", z: "run", stroke: "#000000", strokeWidth: 4}),
    Plot.line(meanRows, {x: "t", y: "v", z: "run", stroke: "#ff0000", strokeWidth: 5}),
    Plot.ruleX([timeOf(0), timeOf(144)], {stroke: "black"}),
    Plot.ruleY([yBottom], {stroke: "black"}),
    Plot.text(leftTicks, {y: d => d, text: d => String(d), frameAnchor: "left", dx: -30, dy: 2, textAnchor: "start"}),
    Plot.text(rightTicks, {y: d => d + precipOffset, text: d => String(d), frameAnchor: "right", dx: 20, dy: 2, textAnchor: "start"}),
    Plot.text(panelLabels, {y: "y", text: "label", frameAnchor: "left", dx: 10, textAnchor: "start"}),
    Plot.text(days, {x: d => d, text: (d, i) => dayLabels[i], frameAnchor: "bottom", rotate: -90, textAnchor: "end", dx: 6, dy: 2, fontSize: 8.5}),
    Plot.text(["(°C)"], {text: d => d, frameAnchor: "bottom-left", dx: -30, dy: 7, textAnchor: "start"}),
    Plot.text(["(mm)"], {text: d => d, frameAnchor: "bottom-right", dx: 20, dy: 7, textAnchor: "start"})
  ]
});
document.getElementById("chart").appendChild(chart);

// ---------------- legend & caption (below the plot) ----------------
const leg = d3.create("svg").attr("width", 740).attr("height", 68)
  .style("display", "block").style("font-family", "DejaVu Sans Mono").style("background", "white");
leg.append("rect").attr("x", 35).attr("y", 6).attr("width", 30).attr("height", 4).attr("fill", "#ff0000");
leg.append("text").attr("x", 75).attr("y", 11.5).attr("font-size", 10).text("Moyenne des scénarios");
leg.append("rect").attr("x", 225).attr("y", 6).attr("width", 30).attr("height", 4).attr("fill", "#000000");
leg.append("text").attr("x", 265).attr("y", 11.5).attr("font-size", 10).text("Contrôle/Det");
leg.append("text").attr("x", 424).attr("y", 24).attr("font-size", 10).attr("text-anchor", "end").text("50 Perts.");
pertIds.forEach((id, i) => {
  const col = i % 25, row = Math.floor(i / 25);
  const x = 430 + col * 11;
  leg.append("rect").attr("x", x).attr("y", row === 0 ? 13 : 19).attr("width", 10).attr("height", 6).attr("fill", pertColors[i]);
  leg.append("text").attr("x", x + 5).attr("y", row === 0 ? 10 : 32.5).attr("font-size", 8).attr("font-weight", "bold")
    .attr("text-anchor", "middle").text(id);
});
leg.append("rect").attr("x", 20.5).attr("y", 35.5).attr("width", 420).attr("height", 32).attr("fill", "none").attr("stroke", "black");
leg.append("text").attr("x", 30).attr("y", 50).attr("font-size", 11.5).attr("font-weight", "bold")
  .text("Diagramme ensembles ECMWF/CEP 0.25° sur 144h : 41.9N 12.5E");
leg.append("text").attr("x", 30).attr("y", 63).attr("font-size", 10)
  .text("Températures 850hPa et 500hPa (°C) , précipitations (mm)");
leg.append("text").attr("x", 450).attr("y", 47).attr("font-size", 10).text("Ensemble ECMWF/CEP du 07/05/2025 - 18Z");
leg.append("text").attr("x", 450).attr("y", 64).attr("font-size", 11.5).attr("font-weight", "bold")
  .text("Copyright 2025 Meteociel.fr - ECMWF");
document.getElementById("chart").appendChild(leg.node());
</script>
</body></html>
